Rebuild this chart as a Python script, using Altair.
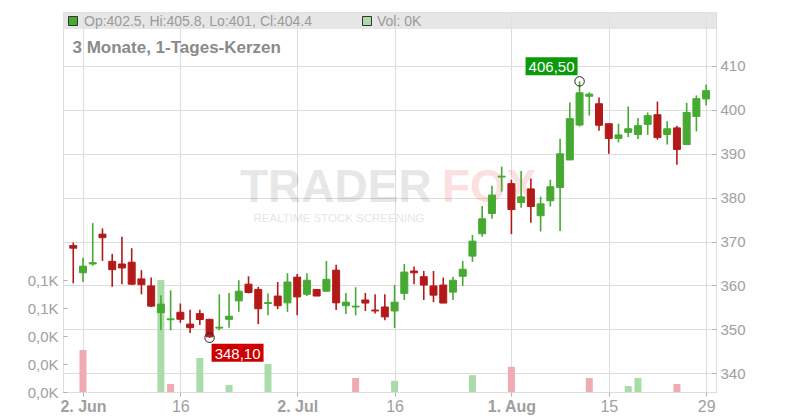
import altair as alt
import pandas as pd

# ---- data (trading-day index 0 = 30 May) ----
opens = [369.1, 362.9, 364.9, 371.7, 365.5, 364.9, 365.3, 361.5, 359.9, 353.8,
         352.2, 353.9, 351.2, 353.6, 352.3, 350.3, 352.3, 356.5, 360.3, 359.1,
         355.9, 357.6, 356.05, 361.9, 358.0, 359.1, 358.7, 363.5, 355.4, 355.1,
         356.7, 354.4, 355.1, 354.2, 358.2, 363.3, 362.0, 359.9, 360.1, 358.5,
         362.1, 366.7, 371.8, 376.4, 384.7, 383.2, 378.9, 382.0, 375.9, 379.3,
         382.3, 388.6, 396.55, 403.1, 401.4, 396.85, 393.5, 394.9, 394.4, 396.7,
         398.9, 394.4, 395.9, 392.1, 398.5, 402.5]
highs = [369.8, 366.3, 374.2, 373.0, 367.2, 371.1, 368.5, 363.5, 361.8, 357.8,
         358.9, 355.9, 354.5, 354.5, 352.4, 358.0, 358.3, 361.2, 362.1, 359.7,
         358.2, 360.8, 362.8, 362.6, 362.8, 359.1, 365.6, 364.7, 358.3, 359.6,
         358.3, 358.0, 358.0, 360.1, 364.9, 364.3, 363.3, 363.3, 361.8, 362.0,
         365.6, 371.5, 378.1, 382.7, 387.1, 384.1, 386.1, 384.4, 380.25, 384.1,
         393.4, 401.7, 406.5, 404.0, 402.85, 396.85, 396.85, 400.8, 398.15, 399.4,
         401.9, 397.4, 396.4, 401.6, 403.3, 405.8]
lows = [360.5, 360.8, 364.5, 365.6, 359.7, 360.3, 360.1, 358.0, 355.1, 349.8,
        349.8, 351.5, 349.2, 351.0, 348.1, 349.8, 350.4, 354.0, 358.2, 351.2,
        353.2, 354.6, 354.0, 353.2, 357.6, 357.6, 358.6, 354.4, 353.5, 353.2,
        354.2, 353.6, 352.1, 350.3, 356.7, 360.3, 356.7, 356.2, 356.0, 356.7,
        359.9, 365.4, 371.1, 375.2, 381.4, 371.7, 377.7, 374.3, 372.3, 378.0,
        372.4, 388.6, 396.2, 398.7, 395.25, 390.0, 392.6, 393.8, 393.35, 394.3,
        393.2, 392.1, 387.5, 392.1, 395.1, 401.0]
closes = [368.5, 364.4, 365.2, 370.9, 363.6, 364.0, 360.3, 360.2, 355.3, 355.75,
          352.4, 352.3, 350.4, 352.25, 348.3, 350.5, 353.0, 358.7, 358.4, 354.7,
          356.1, 355.4, 360.8, 357.4, 361.2, 357.6, 361.4, 356.05, 356.2, 355.3,
          356.0, 354.2, 352.85, 356.2, 363.05, 362.9, 360.1, 357.8, 356.0, 361.2,
          363.7, 370.1, 375.2, 380.6, 384.9, 377.3, 380.2, 378.0, 378.6, 382.5,
          390.0, 398.0, 403.9, 403.6, 396.5, 393.5, 394.3, 395.7, 396.4, 398.7,
          393.7, 395.7, 391.0, 399.4, 402.55, 404.4]
volumes = [0, 30, 0, 0, 0, 0, 0, 0, 0, 80,
           5.7, 0, 0, 24.3, 0, 0, 5, 0, 0, 0,
           20, 0, 0, 0, 0, 0, 0, 0, 0, 10,
           0, 0, 0, 8, 0, 0, 0, 0, 0, 0,
           0, 12, 0, 0, 0, 18, 0, 0, 0, 0,
           0, 0, 0, 10, 0, 0, 0, 4.3, 10, 0,
           0, 0, 5.7, 0, 0, 0]
vol_up = [0, 0, 0, 0, 0, 0, 0, 0, 0, 1,
          0, 0, 0, 1, 0, 0, 1, 0, 0, 0,
          1, 0, 0, 0, 0, 0, 0, 0, 0, 0,
          0, 0, 0, 1, 0, 0, 0, 0, 0, 0,
          0, 1, 0, 0, 0, 0, 0, 0, 0, 0,
          0, 0, 0, 0, 0, 0, 0, 1, 1, 0,
          0, 0, 0, 0, 0, 0]

tick_idx = [1, 11, 23, 33, 45, 55, 65]
tick_labels = ["2. Jun", "16", "2. Jul", "16", "1. Aug", "15", "29"]
month_ticks = [1, 23, 45]
price_ticks = [340, 350, 360, 370, 380, 390, 400, 410]
vol_ticks = [0, 20, 40, 60, 80]

hi_idx, hi_val = 52, 406.50
lo_idx, lo_val = 14, 348.10

header_text = "Op:402.5, Hi:405.8, Lo:401, Cl:404.4"
vol_text = "Vol: 0K"
title_text = "3 Monate, 1-Tages-Kerzen"

# ---- styling ----
GREEN = "#46aa32"
RED = "#b41919"
VGREEN = "#aadcaa"
VRED = "#f0aab4"
LABEL = "#a0a0a0"
FONT = "Liberation Sans"
W, H = 653, 380

df = pd.DataFrame({
    "idx": list(range(len(opens))),
    "o": opens, "h": highs, "l": lows, "c": closes,
    "vol": volumes, "vup": vol_up,
})

xlabel_expr = " : ".join(
    f"datum.value == {i} ? '{t}'" for i, t in zip(tick_idx, tick_labels)
) + " : ''"
month_test = " || ".join(f"datum.value == {i}" for i in month_ticks)

x_enc = alt.X(
    "idx:Q",
    scale=alt.Scale(domain=[-0.54, 65.5], nice=False, zero=False),
    axis=alt.Axis(values=tick_idx, labelExpr=xlabel_expr, grid=True,
                  gridColor="#dddddd", domain=False, tickColor="#b0b0b0",
                  tickSize=4,
                  labelFontWeight={"condition": {"test": month_test, "value": "bold"},
                                   "value": "normal"},
                  labelFontSize=16, labelColor=LABEL, labelPadding=2,
                  title=None, labelFont=FONT),
)

price_scale = alt.Scale(domain=[335.74, 422.3], nice=False, zero=False)
price_axis = alt.Axis(orient="right", values=price_ticks, grid=True,
                      gridColor="#dddddd", domain=False, tickColor="#b0b0b0",
                      tickSize=4, offset=-4, labelPadding=4, labelFontSize=15,
                      labelColor=LABEL, title=None, labelFont=FONT)

base = alt.Chart(df)

wicks = base.mark_rule(strokeWidth=1.6).encode(
    x=x_enc,
    y=alt.Y("l:Q", scale=price_scale, axis=price_axis),
    y2="h:Q",
    color=alt.condition("datum.c >= datum.o", alt.value(GREEN), alt.value(RED)),
)
bodies = base.mark_bar(size=7, strokeWidth=1).encode(
    x=x_enc,
    y=alt.Y("o:Q", scale=price_scale),
    y2="c:Q",
    color=alt.condition("datum.c >= datum.o", alt.value(GREEN), alt.value(RED)),
    stroke=alt.condition("datum.c >= datum.o", alt.value(GREEN), alt.value(RED)),
)

ann = pd.DataFrame({
    "idx": [hi_idx, lo_idx],
    "p": [hi_val, lo_val],
    "txt": [f"{hi_val:.2f}".replace(".", ","), f"{lo_val:.2f}".replace(".", ",")],
})
box_path = "M-2.6,-0.9H2.6V0.9H-2.6Z"
hi_df = ann.iloc[[0]]
lo_df = ann.iloc[[1]]

def label_layers(d, fill, dx, dy):
    box = alt.Chart(d).mark_point(shape=box_path, size=400, filled=True,
                                  fill=fill, opacity=1, strokeWidth=0,
                                  xOffset=dx, yOffset=dy).encode(
        x=x_enc, y=alt.Y("p:Q", scale=price_scale))
    txt = alt.Chart(d).mark_text(color="white", fontSize=15, font=FONT,
                                 dx=dx, dy=dy + 1, baseline="middle",
                                 align="center").encode(
        x=x_enc, y=alt.Y("p:Q", scale=price_scale), text="txt:N")
    circ = alt.Chart(d).mark_point(shape="circle", size=90, filled=False,
                                   color="#222", strokeWidth=1, opacity=1).encode(
        x=x_enc, y=alt.Y("p:Q", scale=price_scale))
    return [box, txt, circ]

price_layer = alt.layer(
    wicks, bodies,
    *label_layers(hi_df, "#0a9a0a", -28, -15),
    *label_layers(lo_df, "#cc0000", 28, 15),
)

vol_layer = base.mark_bar(size=7).encode(
    x=x_enc,
    y=alt.Y("vol:Q", scale=alt.Scale(domain=[0, 271.43], nice=False),
            axis=alt.Axis(orient="left", values=vol_ticks,
                          labelExpr="replace(format(datum.value/1000, '.1f'), '.', ',') + 'K'",
                          grid=False, domain=False, tickColor="#b0b0b0",
                          tickSize=4, offset=-4, labelPadding=5,
                          labelFontSize=15, labelColor=LABEL, title=None,
                          labelFont=FONT)),
    color=alt.condition("datum.vup == 1", alt.value(VGREEN), alt.value(VRED)),
)

one = pd.DataFrame({"k": [0]})

watermark = alt.layer(
    alt.Chart(pd.DataFrame({"t": ["TRADER"]})).mark_text(
        font=FONT, fontWeight="bold", fontSize=46, color="#000", opacity=0.09,
        align="left", baseline="alphabetic").encode(
        x=alt.value(177), y=alt.value(190), text="t:N"),
    alt.Chart(pd.DataFrame({"t": ["FOX"]})).mark_text(
        font=FONT, fontWeight="bold", fontSize=46, color="#f03c3c", opacity=0.16,
        align="left", baseline="alphabetic").encode(
        x=alt.value(379), y=alt.value(190), text="t:N"),
    alt.Chart(pd.DataFrame({"t": ["REALTIME STOCK SCREENING"]})).mark_text(
        font=FONT, fontSize=11.5, color="#000", opacity=0.1,
        align="center", baseline="middle").encode(
        x=alt.value(276), y=alt.value(207), text="t:N"),
)

header = alt.layer(
    alt.Chart(one).mark_rect(color="#e2e2e2", opacity=0.85).encode(
        x=alt.value(0), x2=alt.value(W), y=alt.value(0), y2=alt.value(17)),
    alt.Chart(one).mark_rect(fill=GREEN, stroke="#333", strokeWidth=1).encode(
        x=alt.value(5.5), x2=alt.value(14.5), y=alt.value(4.5), y2=alt.value(13.5)),
    alt.Chart(pd.DataFrame({"t": [header_text]})).mark_text(
        font=FONT, fontSize=14, color="#9a9a9a", align="left", baseline="middle").encode(
        x=alt.value(21), y=alt.value(9.5), text="t:N"),
    alt.Chart(one).mark_rect(fill=VGREEN, stroke="#333", strokeWidth=1).encode(
        x=alt.value(299.5), x2=alt.value(308.5), y=alt.value(4.5), y2=alt.value(13.5)),
    alt.Chart(pd.DataFrame({"t": [vol_text]})).mark_text(
        font=FONT, fontSize=14, color="#9a9a9a", align="left", baseline="middle").encode(
        x=alt.value(314), y=alt.value(9.5), text="t:N"),
    alt.Chart(pd.DataFrame({"t": [title_text]})).mark_text(
        font=FONT, fontSize=17, fontWeight="bold", color="#8a8a8a",
        align="left", baseline="middle").encode(
        x=alt.value(9.5), y=alt.value(36), text="t:N"),
)

chart = alt.layer(
    watermark, vol_layer, price_layer, header
).resolve_scale(y="independent").properties(
    width=W, height=H,
    autosize=alt.AutoSizeParams(type="none"),
    padding={"left": 55, "top": 4, "right": 76, "bottom": 24},
).configure_view(stroke="#b0b0b0", strokeWidth=1).configure(
    font=FONT
)

chart.save("out.html", embed_options={"renderer": "svg", "actions": False})
